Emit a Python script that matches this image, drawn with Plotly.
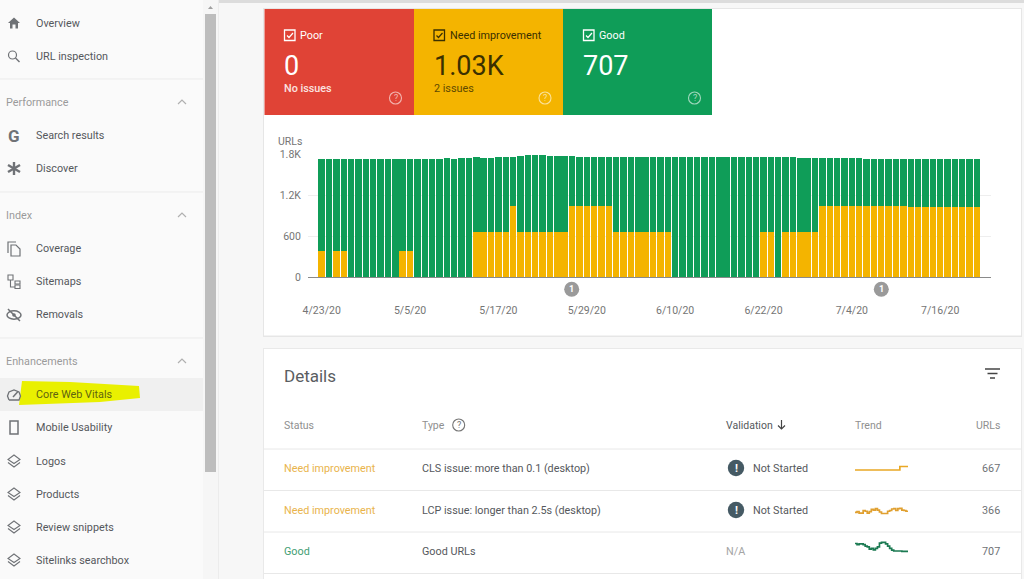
import pandas as pd
import plotly.graph_objects as go

# ---------- data ----------
dates = pd.date_range("2020-04-23", periods=90).strftime("%Y-%m-%d").tolist()
need_improvement = [380, 0, 380, 380, 0, 0, 0, 0, 0, 0, 0, 380, 380, 0, 0, 0, 0, 0, 0, 0, 0,
    667, 667, 667, 667, 667, 1040, 667, 667, 667, 667, 667, 667, 667,
    1047, 1047, 1047, 1047, 1047, 1047,
    667, 667, 667, 667, 667, 667, 667, 667,
    0, 0, 0, 0, 0, 0, 0, 0, 0, 0, 0, 0,
    667, 667, 0, 667, 667, 667, 667, 667,
    1040, 1040, 1040, 1040, 1040, 1040, 1040, 1040, 1040, 1040, 1040, 1040,
    1030, 1030, 1030, 1030, 1030, 1030, 1030, 1030, 1030, 1030]
good = [1351, 1731, 1351, 1351, 1741, 1731, 1731, 1731, 1731, 1731, 1741, 1351, 1351, 1741, 1736, 1741, 1741, 1751, 1741, 1751, 1751,
    1099, 1089, 1089, 1099, 1099, 726, 1113, 1123, 1123, 1123, 1113, 1113, 1113,
    733, 719, 719, 719, 719, 719,
    1099, 1099, 1099, 1099, 1099, 1099, 1099, 1099,
    1766, 1766, 1766, 1766, 1766, 1766, 1766, 1766, 1766, 1766, 1766, 1766,
    1099, 1099, 1766, 1099, 1099, 1089, 1089, 1089,
    716, 716, 716, 706, 706, 706, 691, 691, 701, 701, 701, 691,
    701, 701, 701, 701, 701, 701, 701, 701, 701, 711]
x_tick_dates = ["2020-04-23", "2020-05-05", "2020-05-17", "2020-05-29", "2020-06-10", "2020-06-22", "2020-07-04", "2020-07-16"]
x_tick_labels = ["4/23/20", "5/5/20", "5/17/20", "5/29/20", "6/10/20", "6/22/20", "7/4/20", "7/16/20"]
y_tick_vals = [0, 600, 1200, 1800]
y_tick_labels = ["0", "600", "1.2K", "1.8K"]

trend_cls = [660, 660, 660, 660, 660, 660, 660, 660, 660, 660, 660, 660, 660, 660, 660, 660, 660, 660, 660, 660, 660, 660, 680, 680, 680, 680, 680]
trend_lcp = [340, 344, 336, 336, 350, 346, 336, 344, 356, 352, 360, 352, 342, 334, 334, 334, 346, 350, 358, 360, 350, 360, 362, 352, 350, 346, 346]
trend_good = [760, 752, 758, 758, 752, 742, 738, 722, 728, 718, 728, 738, 762, 768, 768, 758, 742, 728, 716, 710, 710, 710, 710, 707, 707, 707, 707]

sidebar_items = [("Overview", 23.5), ("URL inspection", 56.5), ("Search results", 135.5), ("Discover", 168.5),
                 ("Coverage", 248.5), ("Sitemaps", 281.5), ("Removals", 314.5), ("Mobile Usability", 427.5),
                 ("Logos", 461.5), ("Products", 494), ("Review snippets", 527.5), ("Sitelinks searchbox", 560.5)]
sidebar_heads = [("Performance", 102.5), ("Index", 215.5), ("Enhancements", 361.5)]

W, H = 1024, 579
FONT = "Roboto"
def fx(x): return x / W
def fy(y): return 1 - y / H

shapes, notes = [], []

def rect(x0, y0, x1, y1, fill, line=None, layer="below", lw=1):
    shapes.append(dict(type="rect", xref="paper", yref="paper", x0=fx(x0), x1=fx(x1), y0=fy(y1), y1=fy(y0),
                       fillcolor=fill, line=dict(color=line or "rgba(0,0,0,0)", width=lw if line else 0), layer=layer))

def hline(x0, x1, y, color="#e4e4e4", w=1):
    shapes.append(dict(type="line", xref="paper", yref="paper", x0=fx(x0), x1=fx(x1), y0=fy(y), y1=fy(y),
                       line=dict(color=color, width=w), layer="below"))

def poly(pts, fill=None, line=None, w=1.5, closed=True, layer="above"):
    d = "M " + " L ".join(f"{fx(a):.5f},{fy(b):.5f}" for a, b in pts) + (" Z" if closed else "")
    shapes.append(dict(type="path", path=d, xref="paper", yref="paper",
                       fillcolor=fill or "rgba(0,0,0,0)", line=dict(color=line or "rgba(0,0,0,0)", width=w if line else 0), layer=layer))

def circ(cx, cy, r, fill=None, line=None, w=1.2, ry=None, layer="above"):
    ry = ry or r
    shapes.append(dict(type="circle", xref="paper", yref="paper", x0=fx(cx - r), x1=fx(cx + r), y0=fy(cy + ry), y1=fy(cy - ry),
                       fillcolor=fill or "rgba(0,0,0,0)", line=dict(color=line or "rgba(0,0,0,0)", width=w if line else 0), layer=layer))

def text(x, y, s, size=11, color="#5f6368", anchor="left", weight=None):
    f = dict(family=FONT, size=size, color=color)
    if weight: f["weight"] = weight
    notes.append(dict(x=fx(x), y=fy(y), xref="paper", yref="paper", text=s, showarrow=False, xanchor=anchor,
                      yanchor="middle", font=f, xshift=0, yshift=0, borderpad=0, borderwidth=0))

# ---------- page background ----------
rect(0, 0, W, H, "#f7f7f7")
rect(0, 0, 203, H, "#fafafa")
rect(203, 0, 218, H, "#f6f6f6")
rect(205, 14, 216, 472, "#bdbdbd")
poly([(208, 9), (213, 9), (210.5, 6)], fill="#a0a0a0")
rect(218, 0, W, 3, "#dcdcdc")
rect(218, 0, 219, H, "#ececec")
rect(263, 8, 1022, 337, "#e6e6e6")
rect(264, 9, 1021, 335.5, "#ffffff")
rect(263, 348, 1022, H, "#e9e9e9")
rect(264, 349, 1021, H, "#ffffff")

# ---------- sidebar ----------
for y in (79, 192, 338):
    hline(0, 203, y, "#ebebeb", 1)
rect(0, 378, 203, 411, "#f0f0f0")
poly([(22, 381), (70, 382), (139, 386), (140, 398), (100, 402), (19, 405)], fill="#e9f000", layer="below")

for s, y in sidebar_items:
    text(36, y, s, 10.8, "#55585c")
text(36, 394.5, "Core Web Vitals", 10.8, "#5f6410")
for s, y in sidebar_heads:
    text(6, y, s, 10.8, "#9a9a9a")
    poly([(178, y + 1.5), (182, y - 2.5), (186, y + 1.5)], line="#b0b0b0", w=1.2, closed=False)

ic = "#6f7276"
# home
poly([(14, 17.5), (20, 23), (18, 23), (18, 28.5), (15.5, 28.5), (15.5, 24.5), (12.5, 24.5), (12.5, 28.5), (10, 28.5), (10, 23), (8, 23)], fill=ic)
# search
circ(12.5, 55, 4, line=ic, w=1.2)
poly([(15.5, 58), (19.5, 62)], line=ic, w=1.4, closed=False)
# G and star
text(14, 135.5, "G", 17, ic, "center", 700)
for a, b in [((14, 162), (14, 175)), ((8, 165), (20, 172)), ((8, 172), (20, 165))]:
    poly([a, b], line=ic, w=2.4, closed=False)
# coverage
poly([(8, 253), (8, 242), (16, 242)], line=ic, w=1.2, closed=False)
poly([(11, 245), (16, 245), (20, 249), (20, 256), (11, 256)], line=ic, w=1.2)
# sitemaps
poly([(8, 275), (13, 275), (13, 280), (8, 280)], line=ic, w=1.1)
poly([(15, 281), (20, 281), (20, 284), (15, 284)], line=ic, w=1.1)
poly([(15, 285), (20, 285), (20, 288.5), (15, 288.5)], line=ic, w=1.1)
poly([(10.5, 280), (10.5, 287), (15, 287)], line=ic, w=1.1, closed=False)
# removals
circ(14, 315, 7, line=ic, w=1.5, ry=4.2)
circ(14, 315, 1.8, fill=ic)
poly([(8, 309), (20, 321)], line=ic, w=1.5, closed=False)
# gauge
poly([(9, 400), (7.5, 396), (9, 392), (14, 390), (19, 392), (20.5, 396), (19, 400), (9, 400)], line=ic, w=1.3, closed=False)
poly([(13, 397), (18, 391.5)], line=ic, w=1.5, closed=False)
# mobile
poly([(10, 421), (18, 421), (18, 434), (10, 434)], line=ic, w=1.5)
# layers
for y in (461, 494, 527, 560):
    poly([(14, y - 6), (20, y - 1.5), (14, y + 2.5), (8, y - 1.5)], line=ic, w=1.1)
    poly([(8, y + 1.5), (14, y + 6), (20, y + 1.5)], line=ic, w=1.1, closed=False)

# ---------- status tiles ----------
RED, YEL, GRN = "#e04336", "#f4b400", "#0f9d58"
rect(264.5, 9, 414, 115, RED)
rect(414, 9, 563, 115, YEL)
rect(563, 9, 712, 115, GRN)
for x0, lab, val, sub, fg in [(284, "Poor", "0", "No issues", "#ffffff"),
                              (433.5, "Need improvement", "1.03K", "2 issues", "#3a3000"),
                              (583, "Good", "707", None, "#ffffff")]:
    poly([(x0 + .5, 30), (x0 + 11, 30), (x0 + 11, 40.5), (x0 + .5, 40.5)], line=fg, w=1.3)
    poly([(x0 + 3, 35.5), (x0 + 5, 37.5), (x0 + 9, 33)], line=fg, w=1.2, closed=False)
    text(x0 + 16, 35, lab, 10.8, fg)
    text(x0, 66, val, 27, fg)
    if sub:
        text(x0, 88.5, sub, 10.8, "#fbe3e0" if fg == "#ffffff" else "#5f4a00", weight=500 if fg == "#ffffff" else None)
    qc = "rgba(255,255,255,0.6)"
    circ(x0 + 111.5, 98, 6, line=qc, w=1.1)
    text(x0 + 111.5, 98, "?", 9, qc, "center")

# ---------- chart extras ----------
text(277.5, 141, "URLs", 10.5, "#757575")
for cx in (571.7, 881.3):
    circ(cx, 289.3, 7.5, fill="#9a9a9a")
    text(cx, 289.3, "1", 9, "#ffffff", "center", 700)

# ---------- details card ----------
text(284, 376, "Details", 17, "#5a5d61")
for (a, b, y) in [(985, 1000, 369), (987.5, 997.5, 373.5), (990, 995, 378)]:
    poly([(a, y), (b, y)], line="#444444", w=1.5, closed=False)
text(284, 425.5, "Status", 10.5, "#8f8f8f")
text(422, 425.5, "Type", 10.5, "#8f8f8f")
circ(458.7, 425, 6, line="#757575", w=1.1)
text(458.7, 425, "?", 9, "#757575", "center")
text(726, 425.5, "Validation", 10.5, "#55585c")
poly([(781.5, 420), (781.5, 429)], line="#444444", w=1.2, closed=False)
poly([(778, 425.5), (781.5, 429), (785, 425.5)], line="#444444", w=1.2, closed=False)
text(855, 425.5, "Trend", 10.5, "#8f8f8f")
text(1000, 425.5, "URLs", 10.5, "#8f8f8f", "right")
for y in (449, 490.5, 532, 573.5):
    hline(264, 1021, y, "#e8e8e8", 1)

rows = [(468, "Need improvement", "#e9b44c", "CLS issue: more than 0.1 (desktop)", "667"),
        (510, "Need improvement", "#e9b44c", "LCP issue: longer than 2.5s (desktop)", "366"),
        (551, "Good", "#3f9e73", "Good URLs", "707")]
for y, st, col, ty, n in rows:
    text(284, y, st, 10.8, col)
    text(422, y, ty, 10.8, "#55585c")
    text(1000, y, n, 10.8, "#6f7276", "right")
    if st != "Good":
        circ(736, y, 8.2, fill="#455a64")
        text(736, y, "!", 11, "#ffffff", "center", 700)
        text(752.5, y, "Not Started", 10.8, "#55585c")
text(726, 551, "N/A", 10.8, "#a5a5a5")

# ---------- figure ----------
fig = go.Figure()
fig.add_trace(go.Bar(x=dates, y=need_improvement, marker=dict(color=YEL, line=dict(width=0)), name="Need improvement"))
fig.add_trace(go.Bar(x=dates, y=good, marker=dict(color=GRN, line=dict(width=0)), name="Good"))

spark_x = list(range(27))
for i, (vals, col) in enumerate([(trend_cls, "#e9a825"), (trend_lcp, "#e0a030"), (trend_good, "#1b7a52")]):
    fig.add_trace(go.Scatter(x=spark_x, y=vals, mode="lines", line=dict(color=col, width=1.7, shape="hv"),
                             xaxis=f"x{i + 2}", yaxis=f"y{i + 2}", showlegend=False))

hidden = dict(visible=False, fixedrange=True)
fig.update_layout(
    width=W, height=H, autosize=False, margin=dict(l=0, r=0, t=0, b=0, pad=0, autoexpand=False),
    paper_bgcolor="#f7f7f7", plot_bgcolor="rgba(0,0,0,0)", barmode="stack", bargap=0.13, showlegend=False,
    font=dict(family=FONT), shapes=shapes, annotations=notes,
    xaxis=dict(domain=[fx(308), fx(991)], type="date", range=["2020-04-21 03:22", "2020-07-22 21:36"],
               tickmode="array", tickvals=x_tick_dates, ticktext=x_tick_labels, showgrid=False, zeroline=False,
               showline=True, linecolor="#8a8a8a", linewidth=1, ticks="outside", ticklen=23, tickcolor="rgba(0,0,0,0)",
               tickfont=dict(size=10.5, color="#757575", family=FONT), tickangle=0, anchor="y"),
    yaxis=dict(domain=[fy(277.3), fy(154.7)], range=[0, 1800], tickmode="array", tickvals=y_tick_vals, ticktext=y_tick_labels,
               showgrid=True, gridcolor="#eeeeee", gridwidth=1, zeroline=False, showline=False, ticks="outside", ticklen=4,
               tickcolor="rgba(0,0,0,0)", tickfont=dict(size=10.5, color="#757575", family=FONT), anchor="x"),
    xaxis2=dict(domain=[fx(855), fx(908)], range=[0, 26], anchor="y2", **hidden),
    yaxis2=dict(domain=[fy(477), fy(463)], range=[620, 700], anchor="x2", **hidden),
    xaxis3=dict(domain=[fx(855), fx(908)], range=[0, 26], anchor="y3", **hidden),
    yaxis3=dict(domain=[fy(519), fy(502)], range=[305, 395], anchor="x3", **hidden),
    xaxis4=dict(domain=[fx(855), fx(908)], range=[0, 26], anchor="y4", **hidden),
    yaxis4=dict(domain=[fy(554), fy(539)], range=[690, 790], anchor="x4", **hidden),
)
fig.write_html("out.html", config=dict(displayModeBar=False),
               post_script="document.body.style.margin='0';document.documentElement.style.overflow='hidden';")
